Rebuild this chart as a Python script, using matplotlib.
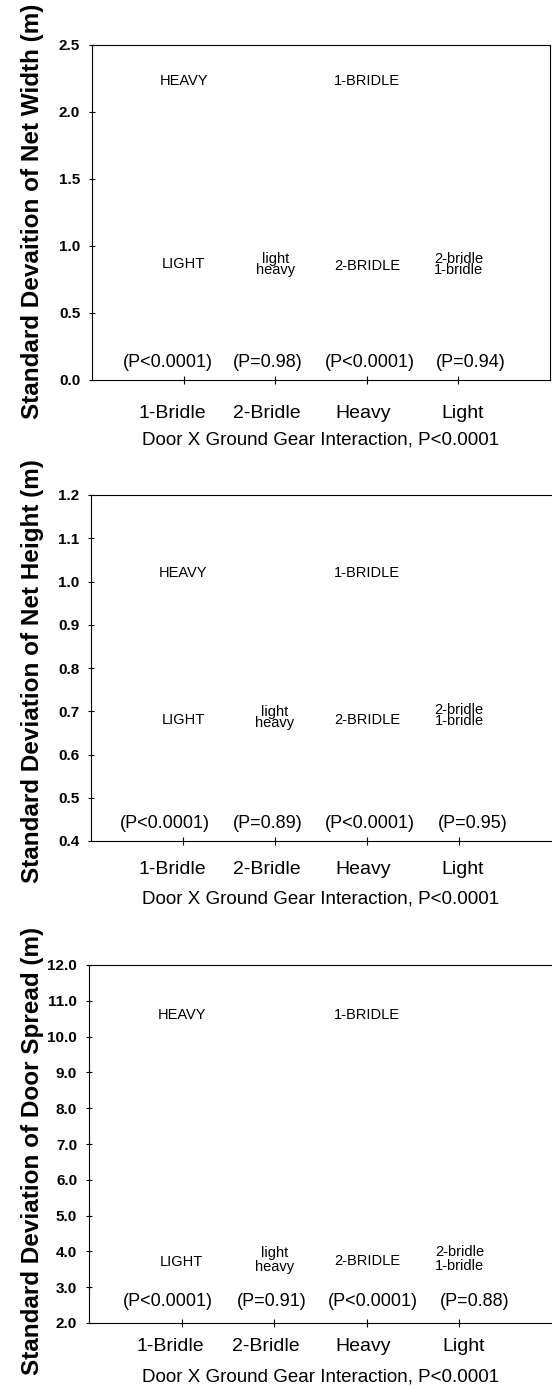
"""
Door x ground gear interaction - standard deviation of net width,
net height and door spread (three stacked panels, letter labels only).
"""

import matplotlib
matplotlib.use('Agg')
import matplotlib.pyplot as plt
from matplotlib.transforms import ScaledTranslation
import numpy as np

plt.rcParams['font.family'] = ['Liberation Sans', 'DejaVu Sans']

# Shared x categories
categories = ['1-Bridle', '2-Bridle', 'Heavy', 'Light']
x_title = 'Door X Ground Gear Interaction, P<0.0001'

# Panel 1: net width
width_ylabel = 'Standard Devaition of Net Width (m)'
width_ticks = [0.0, 0.5, 1.0, 1.5, 2.0, 2.5]
width_groups = ['HEAVY', 'LIGHT', 'light\nheavy', '1-BRIDLE', '2-BRIDLE', '2-bridle\n1-bridle']
width_group_x = [1, 1, 2, 3, 3, 4]
width_group_y = [2.23, 0.86, 0.86, 2.23, 0.85, 0.86]
width_pvals = ['(P<0.0001)', '(P=0.98)', '(P<0.0001)', '(P=0.94)']
width_pval_x = [0.83, 1.92, 3.03, 4.14]
width_pval_y = 0.13

# Panel 2: net height
height_ylabel = 'Standard Deviation of Net Height (m)'
height_ticks = [0.4, 0.5, 0.6, 0.7, 0.8, 0.9, 1.0, 1.1, 1.2]
height_groups = ['HEAVY', 'LIGHT', 'light\nheavy', '1-BRIDLE', '2-BRIDLE', '2-bridle\n1-bridle']
height_group_x = [1, 1, 2, 3, 3, 4]
height_group_y = [1.02, 0.68, 0.685, 1.02, 0.68, 0.69]
height_pvals = ['(P<0.0001)', '(P=0.89)', '(P<0.0001)', '(P=0.95)']
height_pval_x = [0.80, 1.92, 3.03, 4.15]
height_pval_y = 0.44

# Panel 3: door spread
spread_ylabel = 'Standard Deviation of Door Spread (m)'
spread_ticks = [2.0, 3.0, 4.0, 5.0, 6.0, 7.0, 8.0, 9.0, 10.0, 11.0, 12.0]
spread_groups = ['HEAVY', 'LIGHT', 'light\nheavy', '1-BRIDLE', '2-BRIDLE', '2-bridle\n1-bridle']
spread_group_x = [1, 1, 2, 3, 3, 4]
spread_group_y = [10.6, 3.7, 3.75, 10.6, 3.73, 3.8]
spread_pvals = ['(P<0.0001)', '(P=0.91)', '(P<0.0001)', '(P=0.88)']
spread_pval_x = [0.85, 1.97, 3.07, 4.16]
spread_pval_y = 2.6


def draw_panel(fig, rect, ylabel, ticks, groups, gx, gy, pvals, px, py,
               tick_pad, xlab_y, ylab_xy, right_spine, stack_spacing):
    ax = fig.add_axes(rect)
    ax.set_xlim(0, 5)
    ax.set_ylim(ticks[0], ticks[-1])

    ax.set_xticks(np.arange(1, len(categories) + 1))
    ax.set_xticklabels(categories, fontsize=14)
    ax.set_yticks(ticks)
    ax.set_yticklabels([f'{t:.1f}' for t in ticks], fontsize=11, fontweight='bold')

    ax.tick_params(axis='x', direction='inout', length=6, width=0.8, pad=tick_pad)
    ax.tick_params(axis='y', direction='inout', length=5, width=0.8, pad=6)

    # category labels sit slightly off their tick marks in the original
    for lab, dx in zip(ax.get_xticklabels(), [-11, -8, -4, 4]):
        lab.set_transform(lab.get_transform() + ScaledTranslation(dx / 100, 0, fig.dpi_scale_trans))

    for side in ['left', 'bottom', 'top', 'right']:
        ax.spines[side].set_linewidth(0.8)
    ax.spines['right'].set_visible(right_spine)

    for txt, x, y in zip(groups, gx, gy):
        ax.text(x, y, txt, ha='center', va='center', fontsize=10.5,
                linespacing=stack_spacing)
    for txt, x in zip(pvals, px):
        ax.text(x, py, txt, ha='center', va='center', fontsize=13)

    ax.set_xlabel(x_title, fontsize=13.5, va='center')
    ax.xaxis.set_label_coords(0.5, xlab_y)
    ax.set_ylabel(ylabel, fontsize=17.5, fontweight='bold', va='center')
    ax.yaxis.set_label_coords(*ylab_xy)
    return ax


def main():
    fig = plt.figure(figsize=(5.52, 13.87), dpi=100)

    draw_panel(fig, [92 / 552, 1 - 379.5 / 1387, 458 / 552, 334.5 / 1387],
               width_ylabel, width_ticks, width_groups, width_group_x, width_group_y,
               width_pvals, width_pval_x, width_pval_y,
               tick_pad=15.4, xlab_y=-0.182, ylab_xy=(-0.131, 0.504),
               right_spine=True, stack_spacing=0.72)

    draw_panel(fig, [91 / 552, 1 - 841 / 1387, 460 / 552, 346 / 1387],
               height_ylabel, height_ticks, height_groups, height_group_x, height_group_y,
               height_pvals, height_pval_x, height_pval_y,
               tick_pad=11.4, xlab_y=-0.168, ylab_xy=(-0.128, 0.49),
               right_spine=False, stack_spacing=0.72)

    draw_panel(fig, [89 / 552, 1 - 1323 / 1387, 463 / 552, 358 / 1387],
               spread_ylabel, spread_ticks, spread_groups, spread_group_x, spread_group_y,
               spread_pvals, spread_pval_x, spread_pval_y,
               tick_pad=7.8, xlab_y=-0.151, ylab_xy=(-0.123, 0.48),
               right_spine=False, stack_spacing=1.0)

    fig.savefig('out.png', dpi=100, facecolor='white')
    plt.close(fig)


if __name__ == '__main__':
    main()
